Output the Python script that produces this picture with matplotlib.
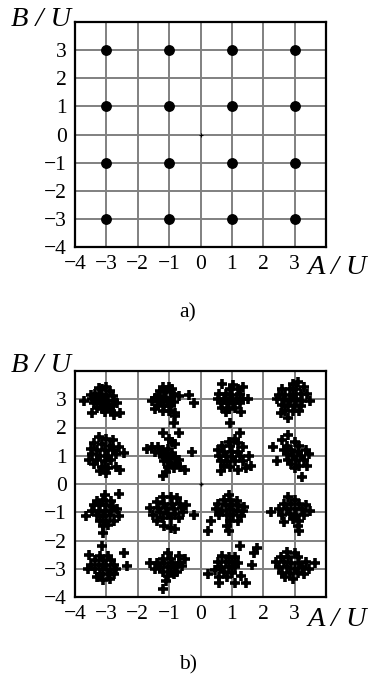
import numpy as np
import matplotlib
matplotlib.use('Agg')
import matplotlib.pyplot as plt

plt.rcParams['font.family'] = 'Liberation Serif'

# ideal 16-QAM constellation
levels = [-3, -1, 1, 3]
ticks = [-4, -3, -2, -1, 0, 1, 2, 3]
tick_labels = ['\u22124', '\u22123', '\u22122', '\u22121', '0', '1', '2', '3']

# received symbols (A, B) per constellation point
received_points = [
    # (-3, 3)
    (-3.0, 3.45), (-3.15, 3.35), (-2.9, 3.3), (-3.35, 3.2), (-3.2, 3.15), (-3.0, 3.15),
    (-2.8, 3.1), (-3.45, 3.0), (-3.3, 3.0), (-3.1, 3.0), (-2.95, 2.95), (-2.75, 2.95),
    (-3.4, 2.85), (-3.2, 2.85), (-3.0, 2.8), (-2.8, 2.8), (-2.65, 2.85), (-3.3, 2.7),
    (-3.1, 2.65), (-2.9, 2.7), (-3.05, 2.55), (-2.85, 2.6), (-3.7, 2.95), (-3.45, 2.5),
    (-2.75, 2.45), (-2.58, 2.5), (-3.5, 3.15), (-3.25, 3.4),
    # (-1, 3)
    (-1.2, 3.45), (-1.0, 3.45), (-0.9, 3.35), (-1.3, 3.3), (-1.1, 3.25), (-0.85, 3.2),
    (-1.35, 3.1), (-1.15, 3.05), (-0.95, 3.05), (-1.25, 2.95), (-1.05, 2.9), (-0.85, 2.9),
    (-1.35, 2.8), (-1.15, 2.75), (-0.95, 2.75), (-1.2, 2.6), (-1.0, 2.6), (-1.55, 2.95),
    (-1.45, 2.65), (-0.38, 3.15), (-0.2, 2.85), (-0.8, 2.5), (-0.82, 2.4), (-0.83, 2.15),
    (-1.45, 3.05), (-0.7, 3.1),
    # (1, 3)
    (0.7, 3.55), (1.05, 3.5), (1.35, 3.45), (0.95, 3.35), (1.2, 3.35), (0.6, 3.2),
    (0.8, 3.2), (1.0, 3.15), (1.25, 3.2), (0.55, 3.0), (0.75, 3.0), (0.95, 3.0),
    (1.15, 3.0), (1.35, 3.0), (1.5, 3.0), (0.65, 2.85), (0.85, 2.85), (1.05, 2.85),
    (1.25, 2.85), (0.7, 2.7), (0.9, 2.65), (1.1, 2.7), (1.3, 2.55), (0.95, 2.15), (0.8, 2.55),
    # (3, 3)
    (2.95, 3.55), (3.1, 3.6), (3.3, 3.45), (2.6, 3.35), (2.85, 3.35), (3.05, 3.35),
    (2.5, 3.15), (2.7, 3.15), (2.95, 3.15), (3.2, 3.2), (3.4, 3.2), (2.45, 3.0),
    (2.65, 3.0), (2.85, 2.95), (3.05, 3.0), (3.25, 2.95), (3.5, 2.95), (2.6, 2.8),
    (2.8, 2.75), (3.0, 2.8), (3.2, 2.75), (2.7, 2.6), (2.95, 2.6), (2.55, 2.5),
    (2.8, 2.35), (3.15, 2.6),
    # (-3, 1)
    (-3.25, 1.65), (-3.0, 1.6), (-2.8, 1.55), (-3.4, 1.45), (-3.15, 1.4), (-2.9, 1.35),
    (-3.5, 1.25), (-3.3, 1.2), (-3.05, 1.2), (-2.8, 1.2), (-3.45, 1.05), (-3.2, 1.0),
    (-2.95, 1.0), (-2.7, 1.05), (-2.45, 1.1), (-3.55, 0.85), (-3.3, 0.85), (-3.05, 0.8),
    (-2.85, 0.85), (-3.4, 0.7), (-3.15, 0.6), (-2.95, 0.55), (-2.7, 0.6), (-3.2, 0.45),
    (-3.0, 0.4), (-2.6, 1.3), (-2.55, 0.5),
    # (-1, 1)
    (-1.2, 1.8), (-0.7, 1.8), (-1.0, 1.6), (-0.9, 1.5), (-0.8, 1.4), (-1.7, 1.25),
    (-1.55, 1.3), (-1.35, 1.3), (-1.2, 1.2), (-1.05, 1.25), (-1.3, 1.1), (-1.1, 1.05),
    (-0.9, 1.1), (-1.2, 0.95), (-1.0, 0.9), (-0.8, 0.95), (-0.7, 0.85), (-1.15, 0.8),
    (-0.95, 0.75), (-0.75, 0.7), (-1.05, 0.6), (-0.85, 0.55), (-0.65, 0.6), (-0.5, 0.48),
    (-1.1, 0.42), (-1.2, 0.28), (-0.28, 1.15), (-1.45, 1.15),
    # (1, 1)
    (1.25, 1.8), (1.1, 1.6), (0.9, 1.5), (1.2, 1.45), (0.7, 1.35), (0.95, 1.35),
    (1.35, 1.3), (0.55, 1.2), (0.75, 1.15), (1.0, 1.15), (1.2, 1.15), (0.6, 1.0),
    (0.8, 1.0), (1.0, 0.95), (1.25, 1.0), (1.55, 1.0), (0.65, 0.8), (0.85, 0.8),
    (1.1, 0.8), (1.35, 0.8), (0.75, 0.65), (0.95, 0.6), (1.6, 0.65), (0.65, 0.45),
    (1.2, 0.5), (1.45, 0.55),
    # (3, 1)
    (2.8, 1.75), (2.6, 1.55), (3.0, 1.5), (2.3, 1.3), (2.75, 1.35), (3.15, 1.35),
    (2.65, 1.2), (2.9, 1.2), (3.1, 1.15), (3.35, 1.2), (2.75, 1.05), (2.95, 1.0),
    (3.2, 1.0), (3.45, 1.05), (2.8, 0.85), (3.05, 0.85), (3.3, 0.85), (2.45, 0.8),
    (2.9, 0.7), (3.15, 0.65), (3.4, 0.65), (3.25, 0.25), (3.0, 0.55),
    # (-3, -1)
    (-3.05, -0.4), (-2.6, -0.35), (-3.3, -0.6), (-3.1, -0.55), (-2.85, -0.6), (-3.4, -0.75),
    (-3.2, -0.75), (-3.0, -0.75), (-2.8, -0.8), (-3.45, -0.95), (-3.25, -0.95), (-3.05, -0.95),
    (-2.85, -0.95), (-2.65, -0.9), (-3.65, -1.15), (-3.3, -1.1), (-3.1, -1.15), (-2.9, -1.1),
    (-2.6, -1.15), (-3.2, -1.3), (-3.0, -1.3), (-2.75, -1.3), (-3.1, -1.5), (-2.95, -1.45),
    (-3.1, -1.75),
    # (-1, -1)
    (-1.2, -0.45), (-0.95, -0.45), (-0.75, -0.5), (-1.4, -0.65), (-1.15, -0.7), (-0.9, -0.7),
    (-0.65, -0.7), (-1.6, -0.85), (-1.35, -0.85), (-1.1, -0.85), (-0.85, -0.9), (-0.6, -0.85),
    (-1.3, -1.0), (-1.05, -1.05), (-0.8, -1.05), (-0.55, -1.0), (-1.5, -1.1), (-1.2, -1.2),
    (-0.95, -1.2), (-0.7, -1.2), (-0.22, -1.1), (-1.4, -1.3), (-1.15, -1.5), (-0.95, -1.55),
    (-0.8, -1.6), (-0.45, -0.75),
    # (1, -1)
    (0.9, -0.4), (0.75, -0.55), (0.95, -0.55), (1.15, -0.6), (0.55, -0.7), (0.8, -0.75),
    (1.0, -0.75), (1.2, -0.75), (0.5, -0.9), (0.7, -0.95), (0.95, -0.9), (1.15, -0.95),
    (1.35, -0.95), (0.6, -1.1), (0.85, -1.1), (1.05, -1.1), (1.3, -1.15), (0.35, -1.3),
    (0.95, -1.3), (1.2, -1.3), (0.85, -1.5), (0.9, -1.65), (0.25, -1.65), (1.4, -0.8),
    # (3, -1)
    (2.8, -0.45), (3.0, -0.55), (2.65, -0.7), (2.9, -0.7), (3.15, -0.7), (3.35, -0.75),
    (2.25, -1.0), (2.5, -0.9), (2.75, -0.9), (3.0, -0.9), (3.25, -0.9), (3.5, -0.95),
    (2.6, -1.1), (2.85, -1.05), (3.05, -1.1), (3.3, -1.1), (2.65, -1.35), (2.95, -1.25),
    (3.15, -1.3), (3.1, -1.5), (3.15, -1.65),
    # (-3, -3)
    (-3.15, -2.2), (-3.55, -2.5), (-2.45, -2.45), (-3.2, -2.55), (-2.95, -2.55), (-3.35, -2.7),
    (-3.1, -2.7), (-2.85, -2.7), (-3.5, -2.85), (-3.25, -2.85), (-3.0, -2.85), (-2.75, -2.85),
    (-2.35, -2.9), (-3.35, -3.0), (-3.1, -3.0), (-2.9, -3.05), (-2.7, -3.0), (-3.6, -3.0),
    (-3.2, -3.2), (-2.95, -3.2), (-2.75, -3.2), (-3.1, -3.4), (-2.9, -3.35), (-3.3, -3.3),
    # (-1, -3)
    (-1.05, -2.45), (-0.7, -2.55), (-0.5, -2.65), (-1.2, -2.65), (-0.95, -2.65), (-1.4, -2.8),
    (-1.15, -2.8), (-0.9, -2.8), (-0.7, -2.8), (-1.6, -2.8), (-1.3, -2.95), (-1.05, -2.95),
    (-0.8, -2.95), (-0.6, -2.9), (-1.2, -3.1), (-0.95, -3.1), (-0.75, -3.1), (-1.05, -3.25),
    (-1.1, -3.45), (-1.2, -3.7), (-1.45, -3.0), (-0.85, -3.2),
    # (1, -3)
    (1.25, -2.2), (1.8, -2.25), (1.7, -2.45), (0.7, -2.55), (0.9, -2.6), (1.1, -2.6),
    (0.55, -2.75), (0.8, -2.75), (1.0, -2.75), (1.2, -2.8), (1.65, -2.85), (0.65, -2.95),
    (0.9, -2.95), (1.1, -2.95), (0.45, -3.05), (0.75, -3.1), (1.0, -3.15), (0.25, -3.2),
    (0.6, -3.3), (0.6, -3.5), (1.1, -3.5), (1.45, -3.5), (1.3, -3.25), (0.85, -3.3),
    # (3, -3)
    (2.75, -2.4), (3.0, -2.45), (2.55, -2.6), (2.8, -2.6), (3.1, -2.6), (2.4, -2.75),
    (2.65, -2.75), (2.9, -2.8), (3.15, -2.8), (3.35, -2.75), (3.65, -2.8), (2.5, -2.95),
    (2.75, -2.95), (3.0, -3.0), (3.25, -2.95), (3.45, -3.0), (2.6, -3.15), (2.85, -3.15),
    (3.1, -3.15), (3.3, -3.2), (2.95, -3.35), (2.7, -3.3),
]

W, H = 368, 676
fig = plt.figure(figsize=(W / 100, H / 100), dpi=100)


def setup_axes(rect):
    ax = fig.add_axes(rect)
    ax.set_xlim(-4, 4)
    ax.set_ylim(-4, 4)
    ax.set_xticks(range(-4, 5))
    ax.set_yticks(range(-4, 5))
    ax.set_xticklabels(tick_labels + [''])
    ax.set_yticklabels(tick_labels + [''])
    ax.tick_params(length=0, labelsize=15.5, pad=6)
    ax.grid(color='#808080', lw=1.4)
    ax.set_axisbelow(True)
    for s in ax.spines.values():
        s.set_linewidth(1.6)
    return ax


def axis_names(ax, y_bu, y_au):
    fig.text(71 / W, 1 - y_bu / H, 'B / U', ha='right', va='center',
             fontsize=20.5, style='italic')
    fig.text(337 / W, 1 - y_au / H, 'A / U', ha='center', va='center',
             fontsize=20.5, style='italic')


# a) ideal constellation
ax1 = setup_axes([75 / W, 1 - 247 / H, 251 / W, 225 / H])
ga, gb = np.meshgrid(levels, levels)
ax1.plot(ga.ravel(), gb.ravel(), 'o', color='black', ms=6.8, zorder=3)
ax1.plot([0], [0], '+', color='black', ms=3, mew=0.8, zorder=3)
axis_names(ax1, 20, 267)
fig.text(188 / W, 1 - 313 / H, 'a)', ha='center', va='center', fontsize=15.5)

# b) received constellation with noise
ax2 = setup_axes([75 / W, 1 - 597 / H, 251 / W, 226 / H])
pts = np.array(received_points)
ax2.plot(pts[:, 0], pts[:, 1], '+', color='black', ms=7, mew=2.6, zorder=3)
ax2.plot([0], [0], '+', color='black', ms=3.5, mew=1.0, zorder=3)
axis_names(ax2, 366, 620)
fig.text(188 / W, 1 - 665 / H, 'b)', ha='center', va='center', fontsize=15.5)

plt.savefig('out.png', dpi=100)
